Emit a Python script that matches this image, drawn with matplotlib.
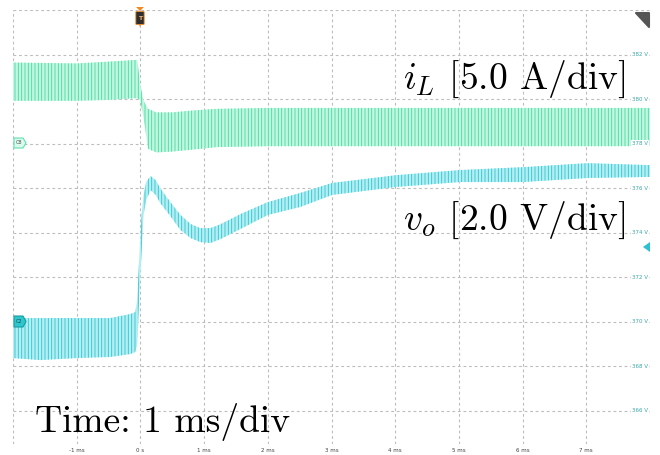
import matplotlib
import matplotlib.pyplot as plt
import numpy as np
from matplotlib.patches import Polygon, FancyBboxPatch

matplotlib.use('Agg')
plt.rcParams['mathtext.fontset'] = 'cm'
plt.rcParams['hatch.linewidth'] = 0.6

# screen grid: time in ms, vertical scale in V (vo channel, 2 V/div)
t_ticks = [-1, 0, 1, 2, 3, 4, 5, 6, 7]
t_labels = ['-1 ms', '0 s', '1 ms', '2 ms', '3 ms', '4 ms', '5 ms', '6 ms', '7 ms']
v_ticks = [382, 380, 378, 376, 374, 372, 370, 368, 366]

# inductor current iL, ripple band edges (A)
t_il = [-2.0, -1.0, -0.5, -0.05, 0.0, 0.05, 0.12, 0.25, 0.5, 0.8, 1.2, 2.0, 8.0]
il_hi = [9.1, 9.0, 9.2, 9.4, 6.5, 4.8, 3.9, 3.5, 3.5, 3.7, 3.9, 4.0, 4.0]
il_lo = [4.8, 4.8, 4.9, 5.1, 4.8, 2.9, -0.6, -1.0, -0.9, -0.7, -0.4, -0.3, -0.3]

# output voltage vo, ripple band edges (V)
t_vo = [-2.0, -1.57, -1.0, -0.47, -0.16, -0.08, -0.05, -0.02, 0.02, 0.05,
        0.09, 0.16, 0.24, 0.31, 0.47, 0.63, 0.79, 0.94, 1.10, 1.26,
        1.57, 2.0, 2.51, 3.01, 4.02, 5.02, 6.01, 7.02, 8.0]
vo_hi = [370.16, 370.16, 370.16, 370.16, 370.34, 370.43, 370.97, 372.76, 374.79, 375.69,
         376.27, 376.54, 376.36, 376.00, 375.37, 374.79, 374.38, 374.20, 374.20, 374.38,
         374.83, 375.37, 375.78, 376.23, 376.58, 376.81, 376.94, 377.12, 377.03]
vo_lo = [368.36, 368.27, 368.36, 368.41, 368.54, 368.63, 368.94, 370.97, 373.21, 374.79,
         375.46, 375.91, 375.69, 375.33, 374.74, 374.11, 373.75, 373.57, 373.53, 373.71,
         374.16, 374.79, 375.15, 375.69, 376.05, 376.27, 376.27, 376.45, 376.50]

IL_ZERO = 378.0       # C8 ground marker on screen
IL_SCALE = 2.0 / 5.0  # 5 A/div shown on the 2 V/div grid

W, H = 660, 455


def px(x, y):
    return x / W, 1 - y / H


fig = plt.figure(figsize=(W / 100, H / 100), dpi=100)
ax = fig.add_axes([13 / W, 11 / H, 637 / W, 434 / H])
ax.set_xlim(-2, 8)
ax.set_ylim(364.5, 384)
for s in ax.spines.values():
    s.set_visible(False)

grid_kw = dict(color='#bdbdbd', lw=0.8, ls=(0, (2.5, 2.5)), zorder=1)
for x in np.arange(-2, 8):
    ax.axvline(x, **grid_kw)
for v in v_ticks + [384]:
    ax.axhline(v, **grid_kw)

il_hi_v = np.array(il_hi) * IL_SCALE + IL_ZERO
il_lo_v = np.array(il_lo) * IL_SCALE + IL_ZERO
ax.fill_between(t_il, il_lo_v, il_hi_v, facecolor='#c4f5e1', edgecolor='#3ade9e',
                hatch='|||||', linewidth=0, zorder=2)
ax.fill_between(t_vo, vo_lo, vo_hi, facecolor='#b4eef3', edgecolor='#2ac6d0',
                hatch='|||||', linewidth=0, zorder=2)

ax.set_xticks(t_ticks)
ax.set_xticklabels(t_labels)
ax.set_yticks([])
ax.tick_params(axis='x', length=0, pad=3, labelsize=4, labelcolor='#404040')

for v in v_ticks:
    ax.text(7.97, v, f'{v} V', ha='right', va='center', fontsize=4, color='#3aa6a6',
            bbox=dict(fc='white', ec='none', pad=0.6), zorder=5)

# channel labels
fig.text(*px(625, 89), r'$i_L$ [5.0 A/div]', ha='right', va='baseline',
         fontsize=27, family='cmr10')
fig.text(*px(625, 230), r'$v_o$ [2.0 V/div]', ha='right', va='baseline',
         fontsize=27, family='cmr10')
fig.text(*px(35, 432), 'Time: 1 ms/div', ha='left', va='baseline',
         fontsize=27, family='cmr10')

# scope markers
def poly(pts, **kw):
    fig.patches.append(Polygon([px(x, y) for x, y in pts], closed=True,
                               transform=fig.transFigure, **kw))


poly([(136, 7), (144, 7), (140, 11)], fc='#f08a24', ec='none')
fig.patches.append(FancyBboxPatch(px(136.5, 24), 7 / W, 12 / H,
                                  boxstyle='round,pad=0.001', transform=fig.transFigure,
                                  fc='#2e2e2e', ec='#f08a24', lw=0.6))
fig.text(*px(140, 18), 'T', ha='center', va='center', fontsize=4.5, color='#f5b070',
         weight='bold')
poly([(139, 25), (141, 25), (140, 27)], fc='#f08a24', ec='none')

poly([(14, 138), (23, 138), (26, 143), (23, 148), (14, 148)], fc='#dcfbef', ec='#5ee0b0', lw=0.8)
fig.text(*px(19, 143), 'C8', ha='center', va='center', fontsize=3.5, color='#505050')
poly([(14, 316), (23, 316), (26, 321.5), (23, 327), (14, 327)], fc='#2ec6cc', ec='#189ca2', lw=0.8)
fig.text(*px(19, 321.5), 'C2', ha='center', va='center', fontsize=3.5, color='#1a4a50')

poly([(643, 247), (650, 242), (650, 252)], fc='#2cc0d0', ec='none')
poly([(636, 13), (649, 13), (649, 27)], fc='#555555', ec='#555555', lw=1.5, joinstyle='round')

plt.savefig('out.png', dpi=100)
